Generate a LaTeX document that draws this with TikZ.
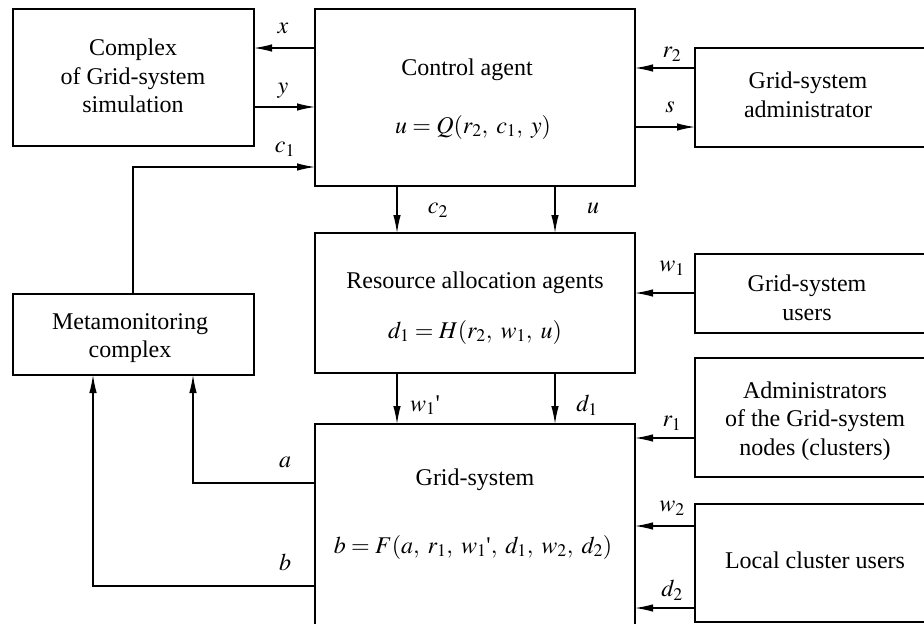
\documentclass[tikz,border=0pt]{standalone}
\usepackage{mathptmx}
\usepackage{fontspec}
\setmainfont{Liberation Serif}
\usetikzlibrary{arrows.meta}
\begin{document}
\begin{tikzpicture}[x=1pt,y=-1pt,
  box/.style={draw,line width=1.2pt,inner sep=0pt,outer sep=0pt},
  txt/.style={font=\fontsize{24}{28.5}\selectfont,align=center,inner sep=0pt},
  lab/.style={font=\fontsize{24}{28}\selectfont,inner sep=0pt},
  arr/.style={line width=1.2pt,-{Latex[length=18pt,width=7.5pt]}}]
\useasboundingbox (0,0) rectangle (924,624);
\clip (0,0) rectangle (924,624);
% boxes
\node[box,minimum width=241pt,minimum height=137pt] (sim) at (133.5,77.5) {};
\node[box,minimum width=320pt,minimum height=177pt] (ctrl) at (475,97.5) {};
\node[box,minimum width=240pt,minimum height=99pt] (admin) at (815,97.5) {};
\node[box,minimum width=320pt,minimum height=140pt] (res) at (475,303) {};
\node[box,minimum width=240pt,minimum height=79pt] (users) at (815,293.5) {};
\node[box,minimum width=241pt,minimum height=81pt] (meta) at (133.5,334.5) {};
\node[box,minimum width=240pt,minimum height=119pt] (admins) at (815,417.5) {};
\node[box,minimum width=320pt,minimum height=216pt] (grid) at (475,532) {};
\node[box,minimum width=240pt,minimum height=118pt] (local) at (815,563) {};
% texts
\node[txt] (simt) at (133,76) {Complex\\of Grid-system\\simulation};
\node[txt] (ctrlt) at (467,70) {Control agent};
\node[txt] (ctrlf) at (473,127) {$u = Q(r_2,\; c_1,\; y)$};
\node[txt] (admint) at (808,95) {Grid-system\\administrator};
\node[txt] (rest) at (475,283) {Resource allocation agents};
\node[txt] (resf) at (475,332) {$d_1 = H(r_2,\; w_1,\; u)$};
\node[txt] (userst) at (807,298) {Grid-system\\users};
\node[txt] (metat) at (130,338) {Metamonitoring\\complex};
\node[txt] (adminst) at (815,421) {Administrators\\of the Grid-system\\nodes (clusters)};
\node[txt] (gridt) at (475,480) {Grid-system};
\node[txt] (gridf) at (473,547) {$b = F(a,\; r_1,\; w_1$\textquotesingle$,\; d_1,\; w_2,\; d_2)$};
\node[txt] (localt) at (815,560) {Local cluster users};
% connectors
\draw[arr] (ctrl.west |- 0,48) -- (sim.east |- 0,48);
\draw[arr] (sim.east |- 0,107) -- (ctrl.west |- 0,107);
\draw[arr] (meta.north -| 133,0) -- (133,167) -- (ctrl.west |- 0,167);
\draw[arr] (admin.west |- 0,68) -- (ctrl.east |- 0,68);
\draw[arr] (ctrl.east |- 0,127) -- (admin.west |- 0,127);
\draw[arr] (ctrl.south -| 397,0) -- (res.north -| 397,0);
\draw[arr] (ctrl.south -| 555,0) -- (res.north -| 555,0);
\draw[arr] (users.west |- 0,293) -- (res.east |- 0,293);
\draw[arr] (res.south -| 397,0) -- (grid.north -| 397,0);
\draw[arr] (res.south -| 555,0) -- (grid.north -| 555,0);
\draw[arr] (admins.west |- 0,438) -- (grid.east |- 0,438);
\draw[arr] (local.west |- 0,526) -- (grid.east |- 0,526);
\draw[arr] (local.west |- 0,608) -- (grid.east |- 0,608);
\draw[arr] (grid.west |- 0,483) -- (193,483) -- (meta.south -| 193,0);
\draw[arr] (grid.west |- 0,586) -- (93,586) -- (meta.south -| 93,0);
% labels
\node[lab] (lx) at (283,28) {$x$};
\node[lab] (ly) at (283,91) {$y$};
\node[lab] (lc1) at (285,149) {$c_1$};
\node[lab] (lr2) at (672,54) {$r_2$};
\node[lab] (ls) at (670,107) {$s$};
\node[lab] (lc2) at (438,210) {$c_2$};
\node[lab] (lu) at (593,208) {$u$};
\node[lab] (lw1) at (672,268) {$w_1$};
\node[lab] (lw1p) at (425,405) {$w_1$\textquotesingle};
\node[lab] (ld1) at (587,405) {$d_1$};
\node[lab] (lr1) at (672,423) {$r_1$};
\node[lab] (lw2) at (672,508) {$w_2$};
\node[lab] (ld2) at (672,590) {$d_2$};
\node[lab] (la) at (285,462) {$a$};
\node[lab] (lb) at (285,562) {$b$};
\end{tikzpicture}
\end{document}
